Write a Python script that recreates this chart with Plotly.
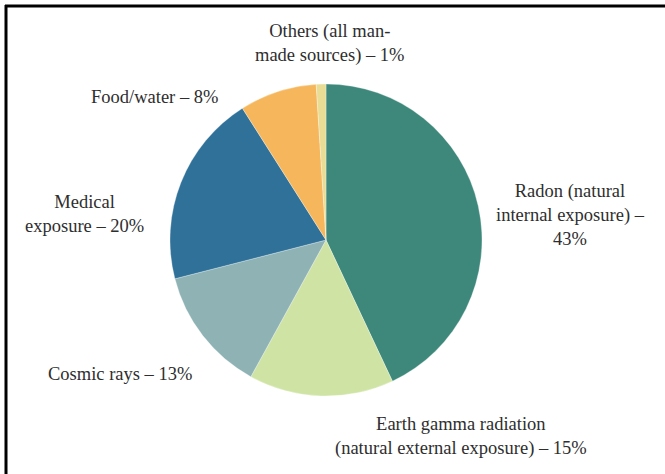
import plotly.graph_objects as go

W, H = 665, 474

categories = ["Radon", "Earth gamma radiation", "Cosmic rays", "Medical exposure", "Food/water", "Others"]
values = [43, 15, 13, 20, 8, 1]
label_texts = [
    "Radon (natural<br>internal exposure) –<br>43%",
    "Earth gamma radiation<br>(natural external exposure) – 15%",
    "Cosmic rays – 13%",
    "Medical<br>exposure – 20%",
    "Food/water – 8%",
    "Others (all man-<br>made sources) – 1%",
]
colors = ["#3d887a", "#cfe4a4", "#8fb3b5", "#2f7199", "#f6b75c", "#e9dc95"]

# label centres in pixels (x, y from top)
label_px = [(570, 215), (461, 436), (120, 374), (84, 214), (154, 97), (330, 44)]

fig = go.Figure()
fig.add_trace(go.Pie(
    labels=categories,
    values=values,
    sort=False,
    direction="clockwise",
    rotation=0,
    marker=dict(colors=colors, line=dict(color="rgba(255,255,255,0.6)", width=0.5)),
    textinfo="none",
    hoverinfo="label+percent",
    showlegend=False,
    domain=dict(x=[(326 - 156) / W, (326 + 156) / W],
                y=[(H - 240 - 157) / H, (H - 240 + 157) / H]),
))

for txt, (px, py) in zip(label_texts, label_px):
    fig.add_annotation(
        x=px / W, y=1 - py / H, xref="paper", yref="paper",
        text=txt, showarrow=False, align="center",
        xanchor="center", yanchor="middle",
        font=dict(family="Liberation Serif", size=18.5, color="#2e2e2e"),
    )

# frame lines (top and left)
fig.add_shape(type="line", xref="paper", yref="paper",
              x0=5 / W, x1=1.0, y0=1 - 6 / H, y1=1 - 6 / H,
              line=dict(color="black", width=3))
fig.add_shape(type="line", xref="paper", yref="paper",
              x0=6 / W, x1=6 / W, y0=0, y1=1 - 5 / H,
              line=dict(color="black", width=3))

fig.update_layout(
    width=W, height=H,
    margin=dict(l=0, r=0, t=0, b=0),
    paper_bgcolor="white",
    plot_bgcolor="white",
    font=dict(family="Liberation Serif"),
)

fig.write_html("out.html")
